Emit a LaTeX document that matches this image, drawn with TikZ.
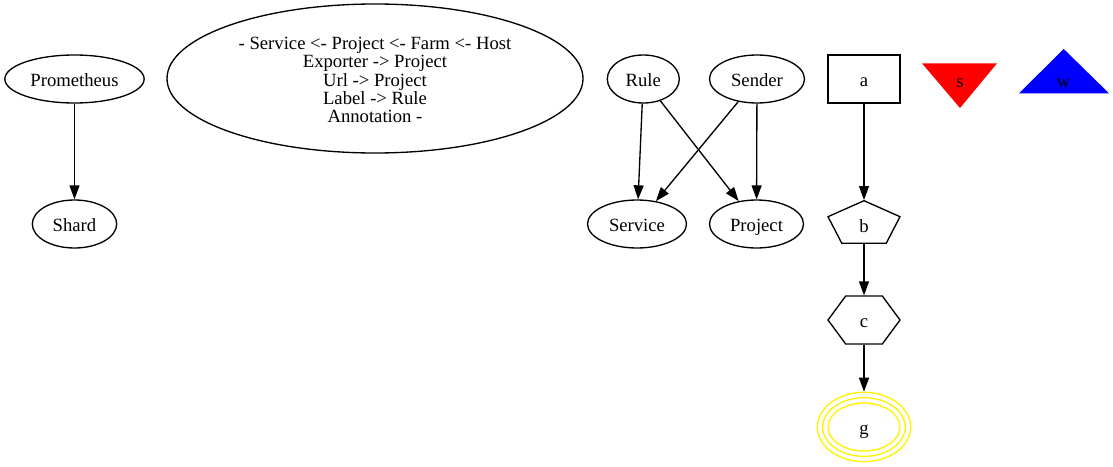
\documentclass[tikz,border=0pt]{standalone}
\usepackage{fontspec}
\setmainfont{Liberation Serif}
\usetikzlibrary{arrows.meta,shapes.geometric,calc}
\begin{document}
\begin{tikzpicture}[x=0.75pt,y=-0.75pt,
  font=\rmfamily\fontsize{14}{14}\selectfont, line width=1pt,
  every node/.style={inner sep=0pt, text height=12.5pt, text depth=1.2pt},
  gv/.style={draw, ellipse, minimum height=36pt},
  arr/.style={-{Triangle[length=10.5pt,width=7.5pt]}, line width=1pt},
  per/.style={draw=yellow, line width=1pt}]
\useasboundingbox (0,0) rectangle (1113,467);

% left graph
\node[gv, minimum width=104.5pt] (prom) at (74.5,79) {Prometheus};
\node[gv, minimum width=63.3pt] (shard) at (74.5,224) {Shard};

% legend
\node[draw, ellipse, minimum width=312pt, minimum height=111.75pt] (legend) at (375,78.5) {};
\node[align=center, text height=, text depth=,
      font=\rmfamily\fontsize{14}{13.75}\selectfont] (legendtext) at (375,80)
  {- Service <- Project <- Farm <- Host\\Exporter -> Project\\Url -> Project\\Label -> Rule\\Annotation -};

% middle graph
\node[gv, minimum width=54pt] (rule) at (643.3,79) {Rule};
\node[gv, minimum width=71.25pt] (sender) at (757,79) {Sender};
\node[gv, minimum width=74.25pt] (service) at (637,224) {Service};
\node[gv, minimum width=70.5pt] (project) at (756.5,224) {Project};

% right chain
\node[draw, rectangle, minimum width=54pt, minimum height=36pt] (a) at (864,79) {a};
\node[minimum width=54pt, minimum height=32pt] (b) at (864,222) {};
\draw ($(b)+(0,-21.3)$) -- ($(b)+(36,-5.3)$) -- ($(b)+(22.2,21.3)$)
   -- ($(b)+(-22.2,21.3)$) -- ($(b)+(-36,-5.3)$) -- cycle;
\node (blabel) at (864,225) {b};
\node[minimum width=54pt, minimum height=36pt] (c) at (864,320) {c};
\draw ($(c)+(-18.3,-24)$) -- ($(c)+(18.3,-24)$) -- ($(c)+(36,0)$)
   -- ($(c)+(18.3,24)$) -- ($(c)+(-18.3,24)$) -- ($(c)+(-36,0)$) -- cycle;
\node[ellipse, per, minimum width=70pt, minimum height=52pt] (g) at (864,427) {g};
\draw[per] (g.center) ellipse [x radius=31pt, y radius=22pt];
\draw[per] (g.center) ellipse [x radius=27pt, y radius=18pt];

% triangles
\fill[red] (922,63.3) -- (997,63.3) -- (960,108) -- cycle;
\node (s) at (960,80) {s};
\fill[blue] (1063.7,49) -- (1109,93.3) -- (1019,93.3) -- cycle;
\node (w) at (1063.7,80) {w};

% edges
\draw[arr] (prom) -- (shard);
\draw[arr] (rule) -- (service);
\draw[arr] (rule) -- (project);
\draw[arr] (sender) -- (service);
\draw[arr] (sender) -- (project);
\draw[arr] (a) -- (b);
\draw[arr] (b) -- (c);
\draw[arr] (c) -- (g);
\end{tikzpicture}
\end{document}
